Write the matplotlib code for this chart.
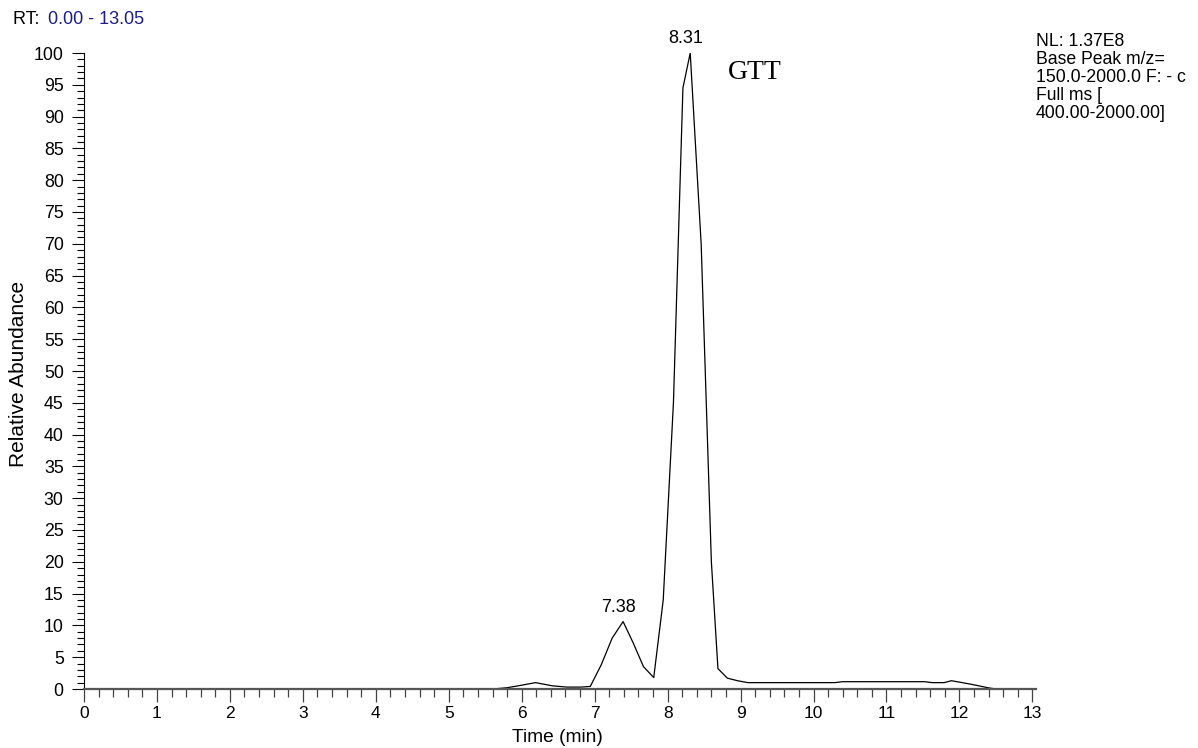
import matplotlib.pyplot as plt
from matplotlib.ticker import MultipleLocator

# chromatogram trace (time in min, relative abundance in %)
time = [0.0, 5.6, 5.8, 6.0, 6.19, 6.42, 6.62, 6.81, 6.94, 7.09, 7.24, 7.39,
        7.53, 7.67, 7.81, 7.94, 8.08, 8.21, 8.31, 8.46, 8.60, 8.69, 8.82,
        8.96, 9.10, 10.29, 10.40, 11.52, 11.63, 11.79, 11.89, 12.04, 12.18,
        12.39, 12.50, 13.05]
abund = [0.0, 0.0, 0.2, 0.6, 1.0, 0.5, 0.3, 0.3, 0.4, 3.8, 8.0, 10.6,
         7.2, 3.5, 1.8, 14.0, 45.0, 94.5, 100.0, 70.0, 20.0, 3.2, 1.7,
         1.3, 1.0, 1.0, 1.15, 1.15, 1.0, 1.0, 1.3, 1.0, 0.7,
         0.2, 0.0, 0.0]

peak_labels = [(8.31, 100.0, "8.31"), (7.38, 10.6, "7.38")]
info_lines = ["NL: 1.37E8", "Base Peak m/z=", "150.0-2000.0 F: - c",
              "Full ms [", "400.00-2000.00]"]

plt.rcParams['font.family'] = ['Liberation Sans', 'DejaVu Sans']

fig = plt.figure(figsize=(11.98, 7.48), dpi=100)
ax = fig.add_axes([84 / 1198, 59 / 748, (1036 - 84) / 1198, (689 - 53) / 748])

ax.plot(time, abund, color='black', lw=0.9)

ax.set_xlim(0, 13.05)
ax.set_ylim(0, 100)
ax.xaxis.set_major_locator(MultipleLocator(1))
ax.xaxis.set_minor_locator(MultipleLocator(0.2))
ax.yaxis.set_major_locator(MultipleLocator(5))
ax.yaxis.set_minor_locator(MultipleLocator(1))

ax.spines['top'].set_visible(False)
ax.spines['right'].set_visible(False)
ax.spines['left'].set_linewidth(0.8)
ax.spines['bottom'].set_linewidth(1.6)
ax.spines['bottom'].set_color('#555555')

ax.tick_params(axis='y', which='major', length=8.6, width=0.8, labelsize=12.8, pad=6)
ax.tick_params(axis='y', which='minor', length=4.8, width=0.8)
ax.tick_params(axis='x', which='major', length=9, width=0.9, labelsize=12.5, pad=3,
               color='#444444')
ax.tick_params(axis='x', which='minor', length=6, width=0.9, color='#444444')

for x, y, s in peak_labels:
    ax.annotate(s, (x, y), xytext=(-3, 4), textcoords='offset points',
                ha='center', va='bottom', fontsize=13)

ax.text(8.83, 96.9, "GTT", family=['Liberation Serif'], fontsize=20,
        ha='left', va='center')

fig.text(13 / 1198, 1 - 20 / 748, "RT: ", fontsize=13, va='center', ha='left')
fig.text(48 / 1198, 1 - 20 / 748, "0.00 - 13.05", fontsize=13, va='center',
         ha='left', color='#1c1c8a')

for i, line in enumerate(info_lines):
    fig.text(1036 / 1198, 1 - (41 + 18 * i) / 748, line, fontsize=12.7,
             va='center', ha='left')

fig.text(19 / 1198, 0.5, "Relative Abundance", rotation=90, fontsize=15,
         va='center', ha='center')
fig.text(557 / 1198, 11 / 748, "Time (min)", fontsize=13.8, va='center', ha='center')

fig.savefig("out.png", dpi=100)
